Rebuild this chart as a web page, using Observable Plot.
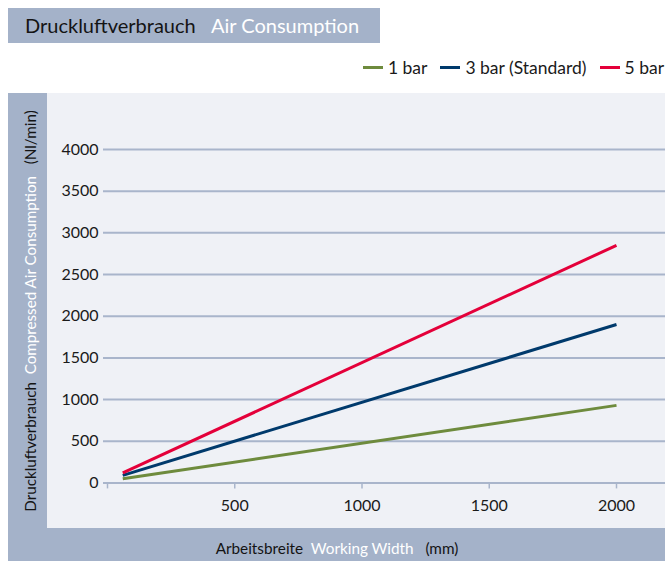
<!DOCTYPE html>
<html>
<head>
<meta charset="utf-8">
<script src="https://cdn.jsdelivr.net/npm/d3@7"></script>
<script src="https://cdn.jsdelivr.net/npm/@observablehq/plot@0.6"></script>
<style>
  html, body { margin: 0; padding: 0; background: #fff; }
  body { font-family: Lato, "Noto Sans", sans-serif; }
  #root { position: relative; width: 672px; height: 561px; overflow: hidden; }
  .band { position: absolute; background: #a4b2c9; }
  .dark { color: #141414; }
  .light { color: #ffffff; }
  #legend { position: absolute; top: 57px; right: 8px; display: flex; align-items: center; font-size: 17.5px; color: #1a1a1a; white-space: nowrap; }
  #legend .item { display: flex; align-items: center; margin-left: 13px; }
  #legend .sw { width: 20px; height: 3px; margin-right: 5px; }
  #chart { position: absolute; left: 47px; top: 93px; }
  #chart svg { background: #eff1f6; display: block; }
  #ylab { position: absolute; left: 30px; top: 311px; transform: translate(-50%, -50%) rotate(-90deg); white-space: pre; font-size: 15.2px; }
  #xlab { position: absolute; left: 337px; top: 548px; transform: translate(-50%, -50%); white-space: pre; font-size: 15.3px; }
</style>
</head>
<body>
<div id="root">
  <div class="band" style="left:8px;top:8px;width:372px;height:35px;">
    <span class="dark" style="position:absolute;left:17px;top:5px;font-size:20px;">Druckluftverbrauch</span>
    <span class="light" style="position:absolute;left:203px;top:5px;font-size:20px;">Air Consumption</span>
  </div>
  <div id="legend"></div>
  <div class="band" style="left:8px;top:93px;width:657px;height:468px;"></div>
  <div id="chart"></div>
  <div id="ylab"><span class="dark">Druckluftverbrauch</span>  <span class="light">Compressed Air Consumption</span>   <span class="dark">(Nl/min)</span></div>
  <div id="xlab"><span class="dark">Arbeitsbreite</span>  <span class="light">Working Width</span>   <span class="dark">(mm)</span></div>
</div>
<script>
// ---- data ----
const widths = [60, 2000];                 // Arbeitsbreite (mm)
const seriesNames = ["1 bar", "3 bar (Standard)", "5 bar"];
const bar1 = [50, 930];                    // Nl/min
const bar3 = [90, 1900];
const bar5 = [120, 2850];
const seriesColors = ["#6e8b3d", "#003a6c", "#e4003a"];
const xTicks = [0, 500, 1000, 1500, 2000];
const yTicks = [0, 500, 1000, 1500, 2000, 2500, 3000, 3500, 4000];

const seriesValues = [bar1, bar3, bar5];
const rows = [];
seriesNames.forEach((name, i) => {
  widths.forEach((w, j) => rows.push({ series: name, width: w, value: seriesValues[i][j] }));
});

const gridColor = "#a9b5cb";

const plot = Plot.plot({
  width: 618,
  height: 435,
  marginLeft: 60,
  marginRight: 49,
  marginTop: 56,
  marginBottom: 45.6,
  style: { fontFamily: "Lato, 'Noto Sans', sans-serif", fontSize: "16px", color: "#1a1a1a", background: "#eff1f6" },
  x: { domain: [0, 2000] },
  y: { domain: [0, 4000] },
  color: { domain: seriesNames, range: seriesColors },
  marks: [
    Plot.ruleY(yTicks, { stroke: gridColor, strokeWidth: 2, insetLeft: -4, insetRight: -49 }),
    Plot.axisY({ ticks: yTicks, tickSize: 0, tickPadding: 9, tickFormat: d => String(d), label: null, fontSize: 16, fill: "#1a1a1a" }),
    Plot.axisX({ ticks: xTicks, tickSize: 6, tickPadding: 11, stroke: gridColor, strokeWidth: 1.5, tickFormat: d => d === 0 ? "" : String(d), label: null, fontSize: 16, fill: "#1a1a1a" }),
    Plot.line(rows, { x: "width", y: "value", z: "series", stroke: "series", strokeWidth: 3, strokeLinecap: "butt" })
  ]
});
document.getElementById("chart").appendChild(plot);

const legend = document.getElementById("legend");
seriesNames.forEach((name, i) => {
  const it = document.createElement("div");
  it.className = "item";
  const sw = document.createElement("div");
  sw.className = "sw";
  sw.style.background = seriesColors[i];
  const tx = document.createElement("span");
  tx.textContent = name;
  it.appendChild(sw);
  it.appendChild(tx);
  legend.appendChild(it);
});
</script>
</body>
</html>
